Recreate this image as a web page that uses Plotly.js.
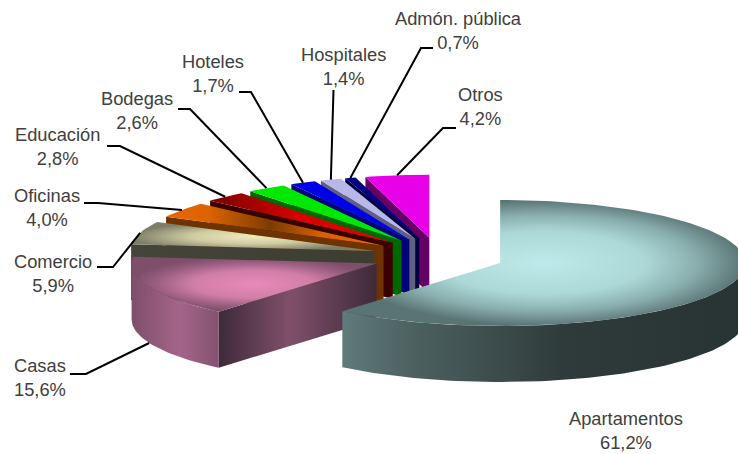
<!DOCTYPE html>
<html>
<head>
<meta charset="utf-8">
<script src="https://cdn.plot.ly/plotly-3.0.1.min.js"></script>
<style>html,body{margin:0;padding:0;background:#fff}#chart{width:738px;height:454px}</style>
</head>
<body>
<div id="chart"></div>
<script>
const categories = ['Apartamentos','Casas','Comercio','Oficinas','Educación','Bodegas','Hoteles','Hospitales','Admón. pública','Otros'];
const shares = [61.2,15.6,5.9,4.0,2.8,2.6,1.7,1.4,0.7,4.2];
const shareLabels = ['61,2%','15,6%','5,9%','4,0%','2,8%','2,6%','1,7%','1,4%','0,7%','4,2%'];

// Projection of the tilted, exploded pie
const CX = 438, CY = 256.5, RX = 245, RY = 63, DEPTH = 56, EXPLODE_X = 0.27, EXPLODE_Y = 0.3;

// Label centres and leader elbows, in the order of categories
const labelX = [626,40,53,47,57,137,213,343,458,480];
const labelY = [430.5,377.5,273.5,207.5,146.5,110.5,73.5,66.5,30.5,106.5];
const leaderX = [null,[70,86],[97,113],[84,98],[107,120],[178,190],[239,251],[333.5],[433,421],[456,443]];
const leaderY = [null,[374,374],[267,267],[203,203],[146,146],[109,109],[92,92],[90],[48,48],[128,128]];

const topStyles = [
  {type:'radial', stops:[[0,'#bdeaea'],[0.5,'#add8d8'],[0.76,'#8aaeae'],[1,'#5a7474']]},
  {type:'radial', stops:[[0,'#e98aba'],[0.5,'#d07ea8'],[0.8,'#9a5e80'],[1,'#7e4f6b']]},
  {type:'radial', stops:[[0,'#efebbb'],[0.5,'#d0cca2'],[1,'#7e7e68']]},
  {type:'horizontal', stops:[[0,'#e86800'],[0.2,'#dc6200'],[0.48,'#7a3c00'],[0.72,'#d86000'],[1,'#e86800']]},
  {type:'horizontal', stops:[[0,'#7a0000'],[0.5,'#d80000'],[1,'#e40000']]},
  {color:'#00e800'},{color:'#0000e8'},{color:'#b8b8e8'},{color:'#000080'},{color:'#e800e8'}
];
const wallStyles = [
  [[0,'#617a7a'],[0.18,'#4c6060'],[0.55,'#2f3b3b'],[1,'#283434']],
  [[0,'#7f4e6a'],[0.55,'#a4658a'],[1,'#845270']],
  null,null,null,null,null,null,null,null
];
const cutStyles = [
  null,
  [[0,'#3e2a38'],[0.45,'#80506a'],[1,'#3e2a38']],
  [[0,'#45453a'],[1,'#3c3c30']],
  '#6e3300','#3a0000','#006800','#000078','#606080','#000040','#660066'
];

const total = shares.reduce((a,b)=>a+b,0);
const rad = d => d*Math.PI/180;
const ends = []; let acc = 0;
shares.forEach(v => { const s = acc; acc += v/total*360; ends.push([s,acc]); });

function apex(i){
  const m = rad((ends[i][0]+ends[i][1])/2);
  return [CX + EXPLODE_X*RX*Math.sin(m), CY - EXPLODE_Y*RY*Math.cos(m)];
}
function rim(p,deg){ return [p[0]+RX*Math.sin(rad(deg)), p[1]-RY*Math.cos(rad(deg))]; }
function arc(p,a,b){ const out=[]; const n=Math.max(2,Math.ceil(Math.abs(b-a)/1.5)); for(let k=0;k<=n;k++) out.push(rim(p,a+(b-a)*k/n)); return out; }

function area(pts, style){
  const t = {type:'scatter',mode:'lines',x:pts.map(q=>q[0]),y:pts.map(q=>q[1]),fill:'toself',
    line:{width:0},hoverinfo:'skip',showlegend:false};
  if(typeof style === 'string') t.fillcolor = style;
  else if(style.color) t.fillcolor = style.color;
  else t.fillgradient = {type:style.type||'horizontal',colorscale:style.stops||style};
  return t;
}

const traces = [];
const order = [9,8,7,6,5,4,3,2,1,0];
order.forEach(i => {
  const p = apex(i), a0 = ends[i][0], a1 = ends[i][1];
  if(cutStyles[i]){
    const o = rim(p,a0);
    const style = cutStyles[i];
    traces.push(area([p,o,[o[0],o[1]+DEPTH],[p[0],p[1]+DEPTH],p], typeof style==='string'?style:{type:'horizontal',stops:style}));
  }
  const w0 = Math.max(a0,90), w1 = Math.min(a1,270);
  if(w1>w0 && wallStyles[i]){
    const up = arc(p,w0,w1);
    const down = up.slice().reverse().map(q=>[q[0],q[1]+DEPTH]);
    traces.push(area(up.concat(down,[up[0]]),{type:'horizontal',stops:wallStyles[i]}));
  }
  traces.push(area([p].concat(arc(p,a0,a1),[p]),topStyles[i]));
});

// Leader lines run from the label elbow to the middle of the slice's rim
categories.forEach((c,i) => {
  if(!leaderX[i]) return;
  const p = apex(i), mid = (ends[i][0]+ends[i][1])/2;
  const e = rim(p,mid);
  const front = Math.cos(rad(mid))<0;
  traces.push({type:'scatter',mode:'lines',x:leaderX[i].concat([e[0]]),y:leaderY[i].concat([e[1]+(front?DEPTH:0)]),
    line:{color:'#000',width:2},hoverinfo:'skip',showlegend:false});
});

const annotations = categories.map((c,i) => ({
  x:labelX[i],y:labelY[i],xref:'x',yref:'y',text:c+'<br>'+shareLabels[i],showarrow:false,
  xanchor:'center',yanchor:'middle',align:'center',
  font:{family:'"Liberation Sans", Arial, sans-serif',size:18.3,color:'#404040'}
}));

Plotly.newPlot('chart',traces,{
  width:738,height:454,margin:{l:0,r:0,t:0,b:0},paper_bgcolor:'#fff',plot_bgcolor:'#fff',showlegend:false,
  xaxis:{range:[0,738],visible:false,fixedrange:true},
  yaxis:{range:[454,0],visible:false,fixedrange:true},
  annotations
},{displayModeBar:false});
</script>
</body>
</html>
